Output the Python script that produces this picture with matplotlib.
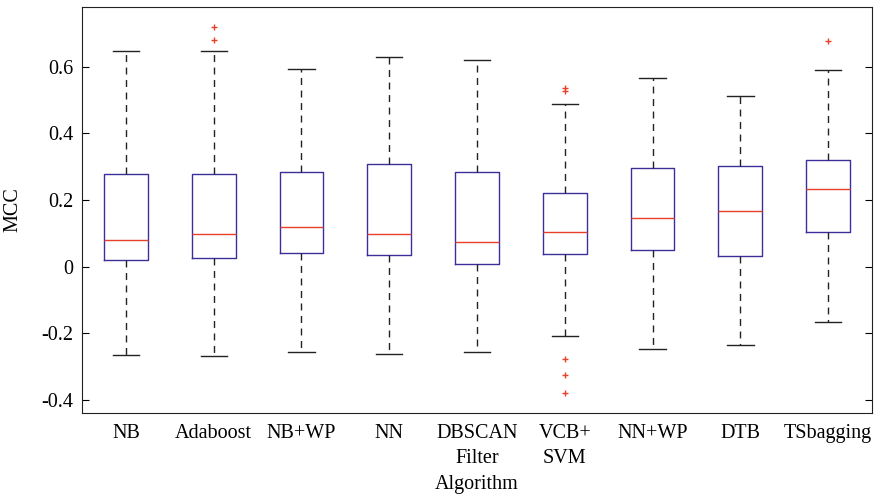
import matplotlib.pyplot as plt

plt.rcParams['font.family'] = ['Liberation Serif', 'DejaVu Serif']

labels = ["NB", "Adaboost", "NB+WP", "NN", "DBSCAN\nFilter\nAlgorithm",
          "VCB+\nSVM", "NN+WP", "DTB", "TSbagging"]
whislo = [-0.267, -0.268, -0.258, -0.262, -0.258, -0.210, -0.249, -0.237, -0.167]
q1 = [0.020, 0.025, 0.040, 0.035, 0.008, 0.037, 0.050, 0.032, 0.105]
med = [0.080, 0.098, 0.118, 0.097, 0.073, 0.105, 0.147, 0.168, 0.233]
q3 = [0.278, 0.278, 0.285, 0.307, 0.283, 0.220, 0.296, 0.303, 0.320]
whishi = [0.647, 0.648, 0.595, 0.630, 0.622, 0.489, 0.567, 0.512, 0.592]
fliers = [[], [0.720, 0.680], [], [], [],
          [0.537, 0.528, -0.277, -0.327, -0.381], [], [], [0.679]]

stats = []
for i in range(len(labels)):
    stats.append(dict(label=labels[i], whislo=whislo[i], q1=q1[i], med=med[i],
                      q3=q3[i], whishi=whishi[i], fliers=fliers[i]))

fig = plt.figure(figsize=(8.77, 4.96), dpi=100)
ax = fig.add_axes([82 / 877, 1 - 413 / 496, (872 - 82) / 877, (413 - 7) / 496])

ax.bxp(stats, positions=range(1, 10), widths=0.5, capwidths=0.3,
       boxprops=dict(color='#3d2f9a', linewidth=1.0),
       medianprops=dict(color='#e8402a', linewidth=1.0),
       whiskerprops=dict(color='#222222', linestyle=(0, (5, 4)), linewidth=1.0),
       capprops=dict(color='#222222', linewidth=1.0),
       flierprops=dict(marker='+', markeredgecolor='#e8402a', markersize=5,
                       markeredgewidth=1.0, linestyle='none'))

ax.set_xlim(0.5, 9.5)
ax.set_ylim(-0.44, 0.78)
ax.set_yticks([-0.4, -0.2, 0, 0.2, 0.4, 0.6])
ax.set_yticklabels(["-0.4", "-0.2", "0", "0.2", "0.4", "0.6"])
ax.tick_params(axis='y', direction='in', right=True, length=5, labelsize=14.5, pad=6)
ax.tick_params(axis='x', length=0, labelsize=14.5, pad=8)
for t in ax.get_xticklabels():
    t.set_linespacing(1.45)
ax.set_ylabel("MCC", fontsize=14.5, labelpad=14)
for s in ax.spines.values():
    s.set_color('#222222')

fig.savefig("out.png", dpi=100)
